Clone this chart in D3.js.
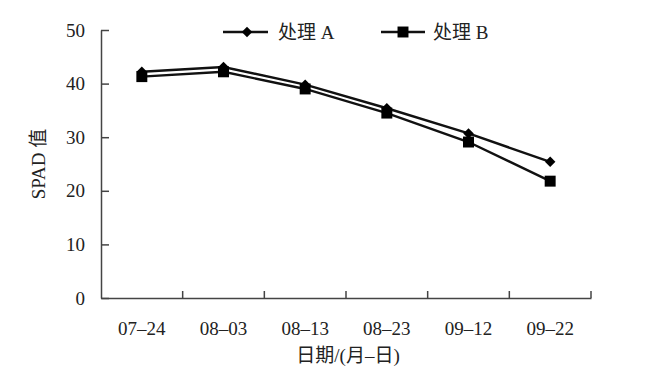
<!DOCTYPE html>
<html><head><meta charset="utf-8">
<script src="https://cdn.jsdelivr.net/npm/d3@7"></script>
<style>body{margin:0;background:#fff}</style>
</head><body>
<svg id="c" width="665" height="369"></svg>
<script>
const categories = ["07–24","08–03","08–13","08–23","09–12","09–22"];
const seriesA = [42.2, 43.1, 39.8, 35.4, 30.7, 25.4];
const seriesB = [41.3, 42.2, 39.0, 34.5, 29.1, 21.8];
const yTicks = [0,10,20,30,40,50];
const seriesNames = ["处理 A","处理 B"];

const font = "'Liberation Serif','Noto Sans CJK SC',serif";
const svg = d3.select("#c");
const m = {l:101, r:591, t:30, b:298};
const x = d3.scaleBand().domain(categories).range([m.l, m.r]);
const y = d3.scaleLinear().domain([0,50]).range([m.b, m.t]);
const axisColor = "#444";

// Y axis
const ya = svg.append("g").attr("transform",`translate(${m.l},0)`)
  .call(d3.axisLeft(y).tickValues(yTicks).tickSizeInner(-8).tickSizeOuter(0).tickPadding(16));
ya.select(".domain").attr("stroke",axisColor).attr("stroke-width",1.5);
ya.selectAll(".tick line").attr("stroke",axisColor).attr("stroke-width",1.5);
ya.selectAll("text").attr("font-family",font).attr("font-size",19).attr("fill","#222");

// X axis
const xa = svg.append("g").attr("transform",`translate(0,${m.b})`)
  .call(d3.axisBottom(x).tickSize(0).tickPadding(24));
xa.select(".domain").attr("stroke",axisColor).attr("stroke-width",1.5);
xa.selectAll("text").attr("font-family",font).attr("font-size",19).attr("fill","#222");
// boundary ticks (inward)
svg.append("g").selectAll("line").data(categories.slice(1).concat(["end"]))
  .join("line")
  .attr("x1",(d,i)=> i<categories.length-1 ? x(d) : m.r)
  .attr("x2",(d,i)=> i<categories.length-1 ? x(d) : m.r)
  .attr("y1",m.b).attr("y2",m.b-7)
  .attr("stroke",axisColor).attr("stroke-width",1.5);

const cx = d => x(d)+x.bandwidth()/2;
const line = d3.line().x((d,i)=>cx(categories[i])).y(d=>y(d));

// Series lines
svg.append("path").datum(seriesB).attr("d",line).attr("fill","none").attr("stroke","#111").attr("stroke-width",2.4);
svg.append("path").datum(seriesA).attr("d",line).attr("fill","none").attr("stroke","#111").attr("stroke-width",2.4);

const diamond = d3.symbol().type(d3.symbolDiamond2).size(70);
const square = d3.symbol().type(d3.symbolSquare).size(120);
svg.append("g").selectAll("path").data(seriesB).join("path")
  .attr("d",square).attr("transform",(d,i)=>`translate(${cx(categories[i])},${y(d)})`).attr("fill","#000");
svg.append("g").selectAll("path").data(seriesA).join("path")
  .attr("d",diamond).attr("transform",(d,i)=>`translate(${cx(categories[i])},${y(d)})`).attr("fill","#000");

// Legend
const leg = [{x1:223,x2:268,mx:247,tx:278,sym:diamond,name:seriesNames[0]},
             {x1:381,x2:425,mx:403,tx:433,sym:square,name:seriesNames[1]}];
const ly = 32;
leg.forEach(l=>{
  svg.append("line").attr("x1",l.x1).attr("x2",l.x2).attr("y1",ly).attr("y2",ly).attr("stroke","#111").attr("stroke-width",2.4);
  svg.append("path").attr("d",l.sym).attr("transform",`translate(${l.mx},${ly})`).attr("fill","#000");
  svg.append("text").attr("x",l.tx).attr("y",ly+7).attr("font-family",font).attr("font-size",19).attr("fill","#222").text(l.name);
});

// Axis titles
svg.append("text").attr("transform","translate(45,164) rotate(-90)").attr("text-anchor","middle")
  .attr("font-family",font).attr("font-size",19).attr("fill","#222").text("SPAD 值");
svg.append("text").attr("x",348).attr("y",362).attr("text-anchor","middle")
  .attr("font-family",font).attr("font-size",19).attr("fill","#222").text("日期/(月–日)");
</script>
</body></html>
